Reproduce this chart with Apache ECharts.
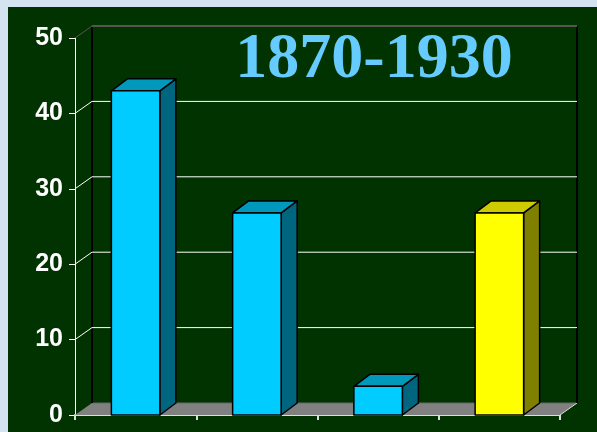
<!DOCTYPE html>
<html>
<head>
<meta charset="utf-8">
<script src="https://cdn.jsdelivr.net/npm/echarts@6/dist/echarts.min.js"></script>
<style>
html,body{margin:0;padding:0;}
#c{width:597px;height:432px;}
</style>
</head>
<body>
<div id="c"></div>
<script>
var categories = ['1', '2', '3', '4'];
var values = [43, 26.8, 3.8, 26.8];
var yTicks = [0, 10, 20, 30, 40, 50];
var titleText = '1870-1930';

var DX = 17, DY = 12;     // wall depth
var BDX = 16, BDY = 12;   // bar depth

var chart = echarts.init(document.getElementById('c'), null, {renderer: 'canvas'});

function frameItem(params, api) {
  var cs = params.coordSys;
  var v = api.value(0);
  var y = api.coord([0, v])[1];
  var x0 = cs.x, x1 = cs.x + cs.width;
  var children = [];
  if (v === 0) {
    var yb = cs.y + cs.height;
    children.push({
      type: 'polygon',
      shape: {points: [[x0, yb], [x1, yb], [x1 + DX, yb - DY], [x0 + DX, yb - DY]]},
      style: {fill: '#808080', stroke: null}
    });
    children.push({
      type: 'line',
      shape: {x1: x0 + DX, y1: yb - DY, x2: x1 + DX, y2: yb - DY},
      style: {stroke: '#666666', lineWidth: 1}
    });
    children.push({
      type: 'line',
      shape: {x1: x1, y1: yb, x2: x1 + DX, y2: yb - DY},
      style: {stroke: '#dddddd', lineWidth: 1}
    });
    children.push({
      type: 'line',
      shape: {x1: x0 + DX, y1: cs.y - DY, x2: x0 + DX, y2: yb - DY},
      style: {stroke: '#000000', lineWidth: 2}
    });
    children.push({
      type: 'line',
      shape: {x1: x1 + DX, y1: cs.y - DY, x2: x1 + DX, y2: yb - DY},
      style: {stroke: '#000000', lineWidth: 2}
    });
  } else {
    var col = (v === 50) ? '#555555' : '#ffffff';
    var lw = (v === 50) ? 2 : 1;
    children.push({
      type: 'line',
      shape: {x1: x0, y1: y, x2: x0 + DX, y2: y - DY},
      style: {stroke: col, lineWidth: 1}
    });
    children.push({
      type: 'line',
      shape: {x1: x0 + DX, y1: y - DY, x2: x1 + DX, y2: y - DY},
      style: {stroke: col, lineWidth: lw}
    });
  }
  return {type: 'group', children: children};
}

function barItem(params, api) {
  var i = api.value(0);
  var v = api.value(1);
  var base = api.coord([i, 0]);
  var top = api.coord([i, v]);
  var w = api.size([1, 0])[0] * 0.4;
  var xl = base[0] - w / 2, xr = base[0] + w / 2;
  var yt = top[1], yb = base[1];
  var yellow = (i === 3);
  var front = yellow ? '#FFFF00' : '#00CCFF';
  var topC = yellow ? '#CCCC00' : '#0099BB';
  var side = yellow ? '#808000' : '#006680';
  var st = {stroke: '#000000', lineWidth: 1.5, lineJoin: 'round'};
  return {
    type: 'group',
    children: [
      {type: 'polygon', shape: {points: [[xr, yt], [xr + BDX, yt - BDY], [xr + BDX, yb - BDY], [xr, yb]]},
        style: Object.assign({fill: side}, st)},
      {type: 'polygon', shape: {points: [[xl, yt], [xl + BDX, yt - BDY], [xr + BDX, yt - BDY], [xr, yt]]},
        style: Object.assign({fill: topC}, st)},
      {type: 'rect', shape: {x: xl, y: yt, width: w, height: yb - yt},
        style: Object.assign({fill: front}, st)}
    ]
  };
}

var option = {
  backgroundColor: '#d3e3f0',
  animation: false,
  graphic: [
    {type: 'rect', z: -10, shape: {x: 8, y: 7, width: 600, height: 430}, style: {fill: '#003300'}},
    {type: 'text', z: 100, style: {
      text: titleText, x: 374, y: 60, textAlign: 'center', textVerticalAlign: 'middle',
      font: 'bold 64px "Liberation Serif", "Times New Roman", serif', fill: '#66CCFF'
    }}
  ],
  grid: {left: 75, right: 37, top: 38, bottom: 17},
  xAxis: {
    type: 'category',
    data: categories,
    boundaryGap: true,
    axisLine: {show: true, lineStyle: {color: '#dddddd', width: 2}},
    axisTick: {show: true, length: 5, interval: 0, lineStyle: {color: '#dddddd', width: 2}},
    axisLabel: {show: false},
    splitLine: {show: false}
  },
  yAxis: {
    type: 'value',
    min: 0, max: 50, interval: 10,
    axisLine: {show: true, lineStyle: {color: '#ffffff', width: 1}},
    axisTick: {show: true, length: 6, lineStyle: {color: '#ffffff'}},
    axisLabel: {color: '#ffffff', fontSize: 25, fontWeight: 'bold', fontFamily: '"Liberation Sans", Arial, sans-serif', margin: 12},
    splitLine: {show: false}
  },
  series: [
    {
      type: 'custom', z: 1, silent: true,
      renderItem: frameItem,
      data: yTicks.map(function (t) { return [t]; }),
      encode: {y: 0}
    },
    {
      type: 'custom', z: 5,
      renderItem: barItem,
      data: values.map(function (v, i) { return [i, v]; }),
      encode: {x: 0, y: 1}
    }
  ]
};
chart.setOption(option);
</script>
</body>
</html>
